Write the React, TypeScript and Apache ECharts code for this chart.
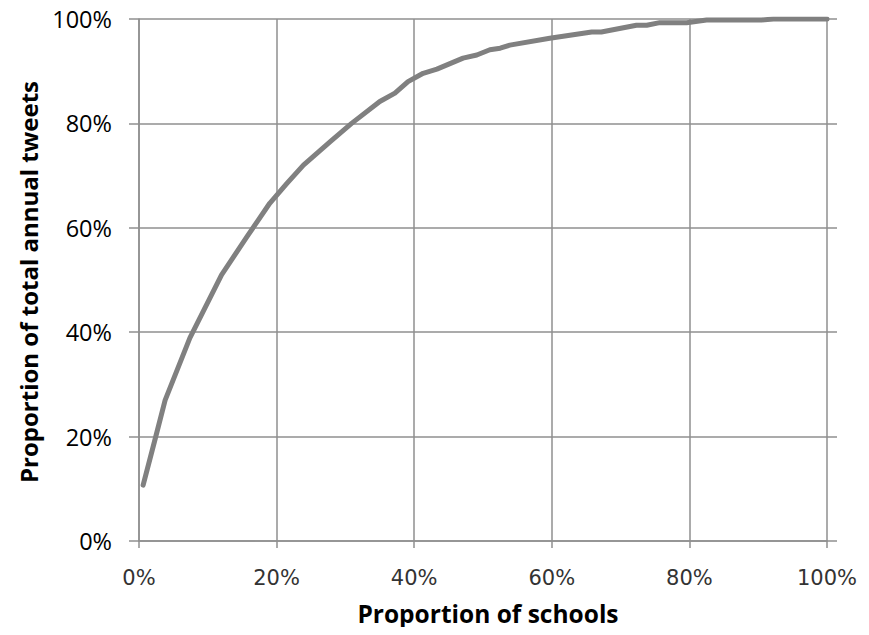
import React, { useEffect, useRef } from "react";
import * as echarts from "echarts";

// Cumulative share of tweets (y, %) against share of schools (x, %)
const schoolShare = [0.6, 2.3, 3.8, 7.4, 12, 15.7, 19, 21.5, 23.9, 27.8, 30.9, 35, 37.2, 39.1, 41.3, 43.3, 47.1, 49.1, 51, 52.5, 53.9, 59.7, 65.8, 67.2, 72.3, 73.8, 75.7, 79.6, 82.5, 90.5, 92.2, 100];
const tweetShare = [10.7, 19.3, 27, 38.9, 51, 58.3, 64.7, 68.5, 72, 76.5, 80, 84.2, 85.8, 88, 89.6, 90.4, 92.5, 93.1, 94.1, 94.4, 95, 96.3, 97.5, 97.5, 98.8, 98.8, 99.3, 99.3, 99.8, 99.8, 100, 100];
const xTitle = "Proportion of schools";
const yTitle = "Proportion of total annual tweets";

const GRID = "#8f8f8f";

export default function App() {
  const ref = useRef<HTMLDivElement>(null);
  useEffect(() => {
    if (!ref.current) return;
    const chart = echarts.init(ref.current, null, { renderer: "svg" });
    const data = schoolShare.map((x, i) => [x, tweetShare[i]]);
    chart.setOption({
      animation: false,
      grid: { left: 139, right: 42, top: 19, bottom: 94 },
      xAxis: {
        type: "value",
        min: 0,
        max: 100,
        interval: 20,
        axisLine: { show: true, lineStyle: { color: GRID, width: 1.5 } },
        axisTick: { show: true, inside: false, length: 7, lineStyle: { color: GRID, width: 1.5 } },
        splitLine: { show: true, lineStyle: { color: GRID, width: 1.5 } },
        axisLabel: {
          formatter: "{value}%",
          margin: 26,
          fontFamily: "DejaVu Sans",
          fontSize: 21,
          color: "#333",
        },
      },
      yAxis: [
        {
          type: "value",
          min: 0,
          max: 100,
          interval: 20,
          axisLine: { show: true, lineStyle: { color: GRID, width: 1.5 } },
          axisTick: { show: true, inside: false, length: 10, lineStyle: { color: GRID, width: 1.5 } },
          splitLine: { show: true, lineStyle: { color: GRID, width: 1.5 } },
          axisLabel: {
            formatter: "{value}%",
            margin: 27,
            fontFamily: "Open Sans",
            fontSize: 23.5,
            color: "#000",
          },
        },
        {
          type: "value",
          position: "right",
          min: 0,
          max: 100,
          interval: 20,
          axisLine: { show: false },
          axisTick: { show: true, inside: false, length: 10, lineStyle: { color: GRID, width: 1.5 } },
          splitLine: { show: false },
          axisLabel: { show: false },
        },
      ],
      series: [
        {
          type: "line",
          data,
          showSymbol: false,
          symbol: "none",
          lineStyle: { color: "#808080", width: 5, cap: "round", join: "round" },
        },
      ],
      graphic: [
        {
          type: "text",
          x: 488,
          y: 613,
          style: {
            text: xTitle,
            fontFamily: "Open Sans",
            fontWeight: "bold",
            fontSize: 24.5,
            fill: "#000",
            align: "center",
            verticalAlign: "middle",
          },
        },
        {
          type: "text",
          x: 28,
          y: 282,
          rotation: Math.PI / 2,
          style: {
            text: yTitle,
            fontFamily: "Open Sans",
            fontWeight: "bold",
            fontSize: 24,
            fill: "#000",
            align: "center",
            verticalAlign: "middle",
          },
        },
      ],
    });
    return () => chart.dispose();
  }, []);
  return <div ref={ref} style={{ width: 869, height: 635, margin: -8 }} />;
}
